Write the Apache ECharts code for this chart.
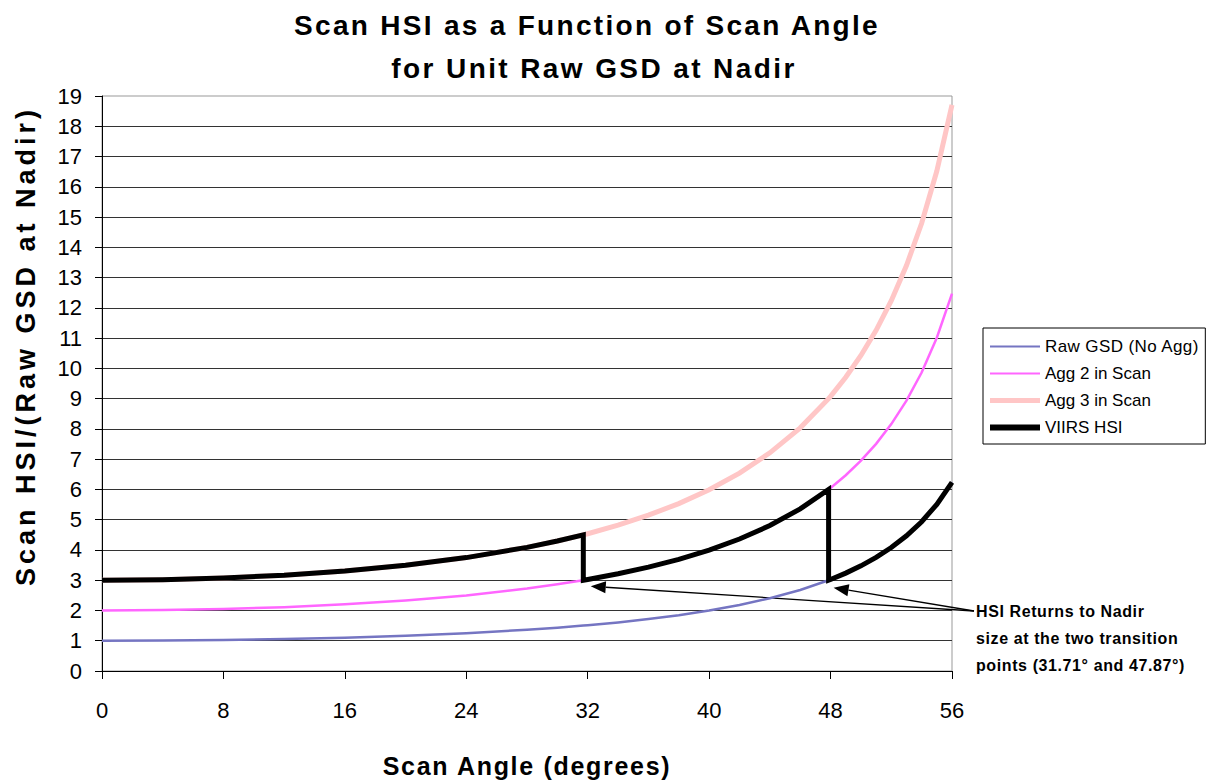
<!DOCTYPE html>
<html>
<head>
<meta charset="utf-8">
<script src="https://cdn.jsdelivr.net/npm/echarts@6/dist/echarts.min.js"></script>
<style>
  html, body { margin: 0; padding: 0; background: #fff; }
  #chart { width: 1207px; height: 781px; }
</style>
</head>
<body>
<div id="chart"></div>
<script>
  // scan angle in degrees, with the two transition points
  var angles = [0, 4, 8, 12, 16, 20, 24, 28, 30, 31.71, 32, 34, 36, 38, 40, 42, 44, 46, 47.87, 48, 49, 50, 51, 52, 53, 54, 55, 56];
  var rawGsd = [1.000, 1.006, 1.024, 1.055, 1.101, 1.164, 1.249, 1.362, 1.432, 1.500, 1.512, 1.606, 1.716, 1.844, 1.997, 2.180, 2.403, 2.678, 3.000, 3.025, 3.235, 3.475, 3.753, 4.079, 4.466, 4.932, 5.507, 6.235];
  var agg2 = [2.000, 2.012, 2.048, 2.110, 2.202, 2.328, 2.498, 2.724, 2.864, 3.000, 3.024, 3.212, 3.432, 3.688, 3.994, 4.360, 4.806, 5.356, 6.000, 6.050, 6.470, 6.950, 7.506, 8.158, 8.932, 9.864, 11.014, 12.470];
  var agg3 = [3.000, 3.018, 3.072, 3.165, 3.303, 3.492, 3.747, 4.086, 4.296, 4.500, 4.536, 4.818, 5.148, 5.532, 5.991, 6.540, 7.209, 8.034, 9.000, 9.075, 9.705, 10.425, 11.259, 12.237, 13.398, 14.796, 16.521, 18.705];
  var transitions = [31.71, 47.87];
  var seriesNames = ["Raw GSD (No Agg)", "Agg 2 in Scan", "Agg 3 in Scan", "VIIRS HSI"];

  var font = "Liberation Sans, Arial, sans-serif";
  var colors = ["#7575c2", "#ff66ff", "#ffc6c6", "#000"];
  var widths = [2.5, 2.5, 5, 5];
  var legendWidths = [2, 2, 5, 6];

  function pairs(ys) {
    return angles.map(function(a, i) { return [a, ys[i]]; });
  }

  // VIIRS HSI follows agg 3, then agg 2, then raw, dropping at each transition
  function buildHsi() {
    var out = [];
    angles.forEach(function(a, i) {
      if (a < transitions[0]) {
        out.push([a, agg3[i]]);
      } else if (a === transitions[0]) {
        out.push([a, agg3[i]]);
        out.push([a, agg2[i]]);
      } else if (a < transitions[1]) {
        out.push([a, agg2[i]]);
      } else if (a === transitions[1]) {
        out.push([a, agg2[i]]);
        out.push([a, rawGsd[i]]);
      } else {
        out.push([a, rawGsd[i]]);
      }
    });
    return out;
  }

  var seriesData = [pairs(rawGsd), pairs(agg2), pairs(agg3), buildHsi()];

  var chart = echarts.init(document.getElementById("chart"), null, {renderer: "svg"});

  var option = {
    animation: false,
    backgroundColor: "#fff",
    grid: {
      left: 102, right: 255, top: 96, bottom: 110,
      show: true, borderColor: "#999", borderWidth: 1, backgroundColor: "transparent"
    },
    xAxis: {
      type: "value", min: 0, max: 56, interval: 8,
      axisLine: {show: true, onZero: false, lineStyle: {color: "#000", width: 1}},
      axisTick: {show: true, length: 8, lineStyle: {color: "#000"}},
      axisLabel: {margin: 28, color: "#000", fontSize: 22, fontFamily: font},
      splitLine: {show: false}
    },
    yAxis: {
      type: "value", min: 0, max: 19, interval: 1,
      axisLine: {show: true, lineStyle: {color: "#000", width: 1}},
      axisTick: {show: true, length: 7, lineStyle: {color: "#000"}},
      axisLabel: {margin: 20, color: "#000", fontSize: 22, fontFamily: font},
      splitLine: {show: true, showMaxLine: false, lineStyle: {color: "#333", width: 1}}
    },
    legend: {
      orient: "vertical",
      left: 983, top: 328,
      padding: [10, 12, 8, 4],
      itemWidth: 50, itemHeight: 14, itemGap: 10,
      borderColor: "#000", borderWidth: 1, backgroundColor: "#fff",
      itemStyle: {opacity: 0},
      textStyle: {fontSize: 17, fontFamily: font, color: "#000"},
      data: seriesNames.map(function(n, i) {
        return {name: n, lineStyle: {width: legendWidths[i]}};
      })
    },
    series: seriesNames.map(function(n, i) {
      return {
        name: n, type: "line", data: seriesData[i],
        showSymbol: false, symbol: "none",
        lineStyle: {color: colors[i], width: widths[i], join: "miter"},
        itemStyle: {color: colors[i]}
      };
    })
  };

  chart.setOption(option);

  // annotation arrows pointing at the two transition drops
  var textStart = [974, 611];
  var tips = [
    chart.convertToPixel({gridIndex: 0}, [32.2, 2.8]),
    chart.convertToPixel({gridIndex: 0}, [48.2, 2.75])
  ];

  function arrow(tip) {
    var dx = tip[0] - textStart[0], dy = tip[1] - textStart[1];
    var len = Math.sqrt(dx * dx + dy * dy);
    var ux = dx / len, uy = dy / len;
    var headLen = 15, headHalf = 6;
    var bx = tip[0] - ux * headLen, by = tip[1] - uy * headLen;
    return [
      {
        type: "line",
        shape: {x1: textStart[0], y1: textStart[1], x2: bx, y2: by},
        style: {stroke: "#000", lineWidth: 1.3}
      },
      {
        type: "polygon",
        shape: {points: [tip, [bx - uy * headHalf, by + ux * headHalf], [bx + uy * headHalf, by - ux * headHalf]]},
        style: {fill: "#000"}
      }
    ];
  }

  function label(text, x, y, size, extra) {
    return Object.assign({
      type: "text", x: x, y: y,
      style: {text: text, fill: "#000", font: "bold " + size + "px " + font, textAlign: "center", textVerticalAlign: "middle"}
    }, extra || {});
  }

  chart.setOption({
    graphic: [].concat(arrow(tips[0]), arrow(tips[1]), [
      label("Scan HSI as a Function of Scan Angle", 587, 25, 28),
      label("for Unit Raw GSD at Nadir", 594, 68, 28),
      label("Scan Angle (degrees)", 527, 766, 25),
      label("Scan HSI/(Raw GSD at Nadir)", 26, 346, 27, {rotation: Math.PI / 2}),
      {
        type: "text", x: 976, y: 598,
        style: {
          text: "HSI Returns to Nadir\nsize at the two transition\npoints (31.71° and 47.87°)",
          fill: "#000", font: "bold 16px " + font, lineHeight: 27, textAlign: "left", textVerticalAlign: "top"
        }
      }
    ])
  });

  // the original uses spaced-out bold lettering
  var spacing = {
    "Scan HSI as a Function of Scan Angle": 2.3,
    "for Unit Raw GSD at Nadir": 2.4,
    "Scan Angle (degrees)": 1.7,
    "Scan HSI/(Raw GSD at Nadir)": 4,
    "HSI Returns to Nadir": 0.6,
    "size at the two transition": 0.6,
    "points (31.71° and 47.87°)": 0.6,
    "Raw GSD (No Agg)": 0.4
  };
  chart.getDom().querySelectorAll("text, tspan").forEach(function(el) {
    var s = spacing[el.textContent];
    if (s) {
      el.setAttribute("letter-spacing", s + "px");
    }
  });
</script>
</body>
</html>
